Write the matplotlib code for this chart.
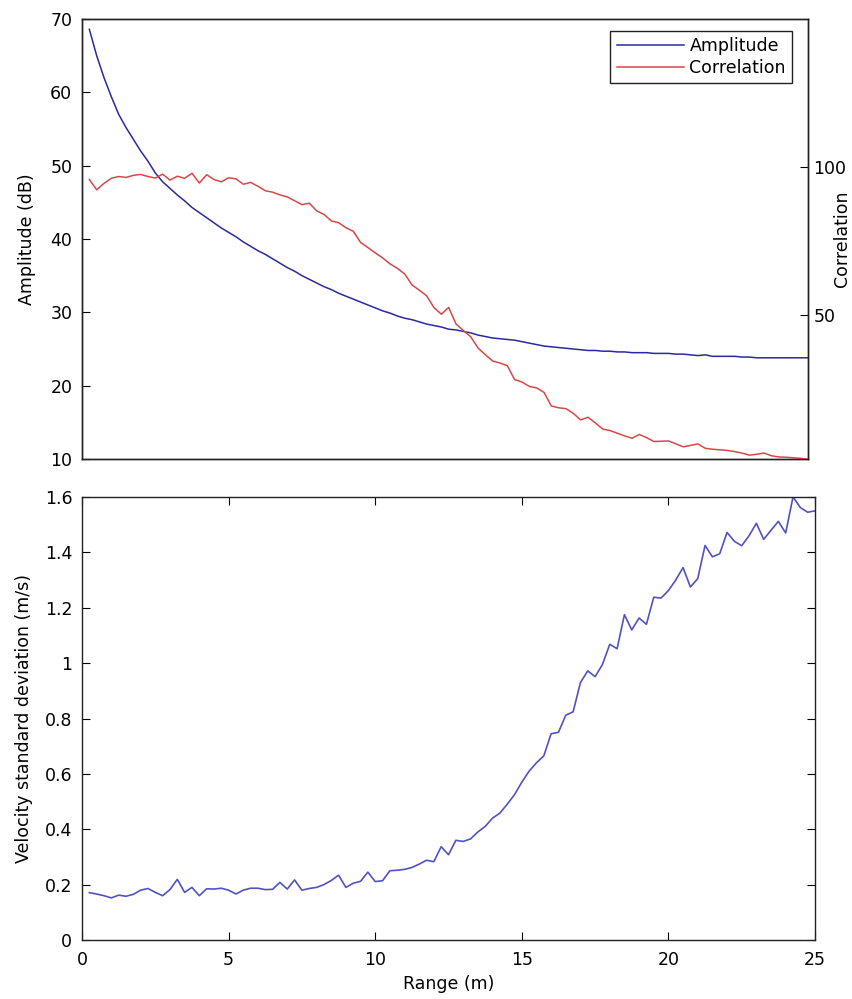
import numpy as np
import matplotlib.pyplot as plt

# range bins (m), 0.25 m spacing
rng = np.arange(1, 101) * 0.25

amplitude = [68.6, 65.0, 62.0, 59.4, 57.0, 55.2, 53.6, 52.0, 50.6, 49.0,
             47.8, 46.9, 46.0, 45.2, 44.3, 43.6, 42.9, 42.2, 41.5, 40.9,
             40.3, 39.6, 39.0, 38.4, 37.9, 37.3, 36.7, 36.1, 35.6, 35.0,
             34.5, 34.0, 33.5, 33.1, 32.6, 32.2, 31.8, 31.4, 31.0, 30.6,
             30.2, 29.9, 29.5, 29.2, 29.0, 28.7, 28.4, 28.2, 28.0, 27.7,
             27.6, 27.4, 27.2, 26.9, 26.7, 26.5, 26.4, 26.3, 26.2, 26.0,
             25.8, 25.6, 25.4, 25.3, 25.2, 25.1, 25.0, 24.9, 24.8, 24.8,
             24.7, 24.7, 24.6, 24.6, 24.5, 24.5, 24.5, 24.4, 24.4, 24.4,
             24.3, 24.3, 24.2, 24.1, 24.2, 24.0, 24.0, 24.0, 24.0, 23.9,
             23.9, 23.8, 23.8, 23.8, 23.8, 23.8, 23.8, 23.8, 23.8, 23.8]

correlation = [95.8, 92.3, 94.5, 96.2, 96.8, 96.5, 97.2, 97.5, 96.8, 96.3,
               97.6, 95.6, 96.9, 96.2, 97.9, 94.6, 97.4, 95.8, 95.0, 96.4,
               96.0, 94.2, 94.8, 93.5, 92.0, 91.5, 90.6, 89.9, 88.6, 87.3,
               87.8, 85.2, 84.0, 81.8, 81.2, 79.5, 78.3, 74.5, 72.8, 71.0,
               69.3, 67.3, 65.8, 63.9, 60.2, 58.4, 56.5, 52.5, 50.3, 52.6,
               47.0, 44.8, 42.7, 38.9, 36.6, 34.5, 33.8, 32.9, 28.2, 27.4,
               25.9, 25.4, 23.9, 19.3, 18.7, 18.4, 16.8, 14.6, 15.5, 13.6,
               11.5, 11.0, 10.1, 9.2, 8.4, 9.7, 8.6, 7.3, 7.4, 7.5,
               6.5, 5.5, 6.0, 6.5, 5.0, 4.7, 4.5, 4.3, 3.9, 3.4,
               2.7, 3.0, 3.4, 2.5, 2.1, 2.0, 1.8, 1.6, 1.3, 1.2]

vel_std = [0.171, 0.166, 0.160, 0.152, 0.162, 0.158, 0.165, 0.180, 0.186, 0.172,
           0.160, 0.182, 0.219, 0.172, 0.190, 0.160, 0.185, 0.184, 0.187, 0.180,
           0.166, 0.180, 0.187, 0.187, 0.182, 0.183, 0.208, 0.184, 0.217, 0.180,
           0.186, 0.190, 0.200, 0.215, 0.234, 0.190, 0.205, 0.212, 0.245, 0.211,
           0.214, 0.250, 0.252, 0.255, 0.262, 0.274, 0.288, 0.283, 0.337, 0.308,
           0.360, 0.356, 0.365, 0.390, 0.410, 0.440, 0.458, 0.490, 0.525, 0.570,
           0.610, 0.640, 0.665, 0.745, 0.750, 0.812, 0.824, 0.930, 0.972, 0.951,
           0.995, 1.068, 1.052, 1.175, 1.120, 1.163, 1.140, 1.238, 1.235, 1.262,
           1.300, 1.345, 1.275, 1.305, 1.425, 1.384, 1.395, 1.472, 1.440, 1.424,
           1.460, 1.505, 1.447, 1.480, 1.512, 1.470, 1.600, 1.562, 1.545, 1.550]

vel_ticks = [0, 0.2, 0.4, 0.6, 0.8, 1.0, 1.2, 1.4, 1.6]
vel_ticklabels = ['0', '0.2', '0.4', '0.6', '0.8', '1', '1.2', '1.4', '1.6']

plt.rcParams['font.family'] = ['DejaVu Sans']
plt.rcParams['font.size'] = 12.5

fig = plt.figure(figsize=(8.53, 9.99), dpi=100)

# top panel: amplitude + correlation (two y axes)
ax1 = fig.add_axes([82/853, 1 - 459/999, 726/853, 440/999])
ax2 = ax1.twinx()
l1, = ax1.plot(rng, amplitude, color='#2a2aa0', lw=1.1, label='Amplitude')
l2, = ax2.plot(rng, correlation, color='#d84848', lw=1.1, label='Correlation')
ax1.set_xlim(0, 24.75)
ax1.set_ylim(10, 70)
ax1.set_yticks(range(10, 71, 10))
ax1.set_xticks([])
ax2.set_ylim(1.4, 150)
ax2.set_yticks([50, 100])
ax1.tick_params(axis='y', direction='in', length=6, pad=7, right=False)
ax2.tick_params(axis='y', direction='in', length=6, pad=4)
ax1.set_ylabel('Amplitude (dB)')
ax2.set_ylabel('Correlation')
ax1.yaxis.set_label_coords(-0.064, 0.5)
ax2.yaxis.set_label_coords(1.034, 0.5)
for ax in (ax1, ax2):
    for s in ax.spines.values():
        s.set_linewidth(1.0)
        s.set_color('#222222')
leg = ax1.legend(handles=[l1, l2], loc='upper right',
                 bbox_to_anchor=(0.978, 0.973), borderaxespad=0,
                 fancybox=False, edgecolor='#222222', framealpha=1,
                 handlelength=3.9, handletextpad=0.3, borderpad=0.35,
                 labelspacing=0.25, fontsize=12.5)
leg.get_frame().set_linewidth(1.0)

# bottom panel: velocity standard deviation
ax3 = fig.add_axes([82/853, 1 - 940/999, 733/853, 443/999])
ax3.plot(rng, vel_std, color='#5252c2', lw=1.2)
ax3.set_xlim(0, 25)
ax3.set_ylim(0, 1.6)
ax3.set_xticks(range(0, 26, 5))
ax3.set_yticks(vel_ticks)
ax3.set_yticklabels(vel_ticklabels)
ax3.tick_params(direction='in', length=6, top=True, right=True)
ax3.tick_params(axis='y', pad=7)
ax3.tick_params(axis='x', pad=8)
ax3.set_xlabel('Range (m)')
ax3.set_ylabel('Velocity standard deviation (m/s)')
ax3.xaxis.set_label_coords(0.5, -0.078)
ax3.yaxis.set_label_coords(-0.067, 0.5)
for s in ax3.spines.values():
    s.set_linewidth(1.0)
    s.set_color('#222222')

fig.savefig('out.png', dpi=100)
